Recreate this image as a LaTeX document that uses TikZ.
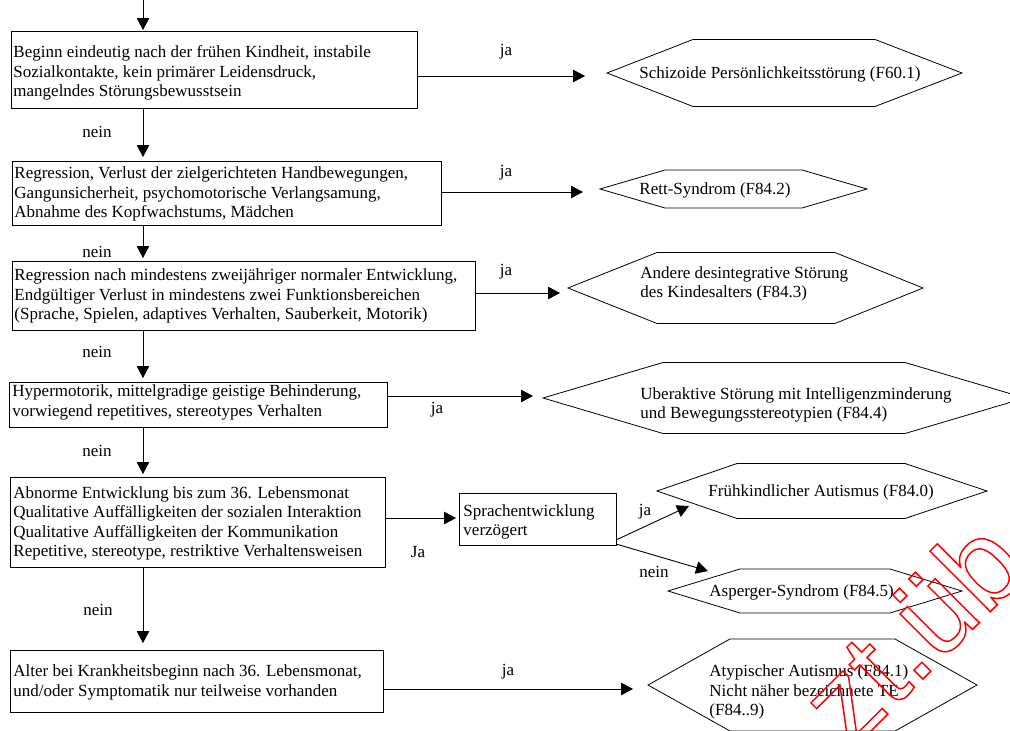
\documentclass[tikz,border=0pt]{standalone}
\usepackage{fontspec}
\setmainfont{Liberation Serif}
\newfontfamily\wmfont{Liberation Sans}
\usetikzlibrary{arrows.meta}
\newcommand\hexagon[6]{\draw[hex] (#1,#2) -- (#3,#2-#6) -- (#4,#2-#6) -- (#5,#2) -- (#4,#2+#6) -- (#3,#2+#6) -- cycle;}
\begin{document}
\begin{tikzpicture}[x=1pt,y=-1pt, line width=0.9pt,
  every node/.style={font=\fontsize{17}{19.3}\selectfont},
  box/.style={draw, anchor=north west, inner sep=0pt},
  lbl/.style={inner sep=0pt},
  htext/.style={inner sep=0pt, anchor=west, align=left},
  arr/.style={-{Triangle[length=12pt,width=12.5pt]}},
  hex/.style={draw, line width=0.8pt}]
\useasboundingbox[fill=white] (0,0) rectangle (1010,731);

% decision boxes
\node[box, minimum width=406pt, minimum height=77pt] (b1) at (11,31) {};
\node[box, minimum width=429pt, minimum height=64pt] (b2) at (12,161) {};
\node[box, minimum width=463pt, minimum height=69pt] (b3) at (12,261) {};
\node[box, minimum width=378pt, minimum height=45pt] (b4) at (9,382) {};
\node[box, minimum width=375pt, minimum height=90pt] (b5) at (10,477) {};
\node[box, minimum width=373pt, minimum height=62pt] (b6) at (10,650) {};
\node[box, minimum width=157pt, minimum height=52pt] (sp) at (459,493) {};
\node[htext] (b1t) at (13,73)
  {Beginn eindeutig nach der frühen Kindheit, instabile\\Sozialkontakte, kein primärer Leidensdruck,\\mangelndes Störungsbewusstsein};
\node[htext] (b2t) at (14,194)
  {Regression, Verlust der zielgerichteten Handbewegungen,\\Gangunsicherheit, psychomotorische Verlangsamung,\\Abnahme des Kopfwachstums, Mädchen};
\node[htext] (b3t) at (14,296)
  {Regression nach mindestens zweijähriger normaler Entwicklung,\\Endgültiger Verlust in mindestens zwei Funktionsbereichen\\(Sprache, Spielen, adaptives Verhalten, Sauberkeit, Motorik)};
\node[htext] (b4t) at (12,402.5)
  {Hypermotorik, mittelgradige geistige Behinderung,\\vorwiegend repetitives, stereotypes Verhalten};
\node[htext] (b5t) at (13,523.5)
  {Abnorme Entwicklung bis zum 36. Lebensmonat\\Qualitative Auffälligkeiten der sozialen Interaktion\\Qualitative Auffälligkeiten der Kommunikation\\Repetitive, stereotype, restriktive Verhaltensweisen};
\node[htext] (b6t) at (13,682.5)
  {Alter bei Krankheitsbeginn nach 36. Lebensmonat,\\und/oder Symptomatik nur teilweise vorhanden};
\node[htext] (spt) at (463,522) {Sprachentwicklung\\verzögert};

% result hexagons
\hexagon{607}{73}{693}{875}{962}{33.5}
\hexagon{600}{189}{665}{802}{867}{19}
\hexagon{568}{288}{657}{835}{923}{35.5}
\hexagon{543}{398}{663}{905}{1025}{35.5}
\hexagon{657}{491}{737}{905}{987}{27.5}
\hexagon{668}{591}{740}{890}{962}{22}
\hexagon{648}{685}{730}{895}{977}{46}
\node[htext] (h1) at (639,74) {Schizoide Persönlichkeitsstörung (F60.1)};
\node[htext] (h2) at (639,190) {Rett-Syndrom (F84.2)};
\node[htext] (h3) at (640,284) {Andere desintegrative Störung\\des Kindesalters (F84.3)};
\node[htext] (h4) at (640,405) {Uberaktive Störung mit Intelligenzminderung\\und Bewegungsstereotypien (F84.4)};
\node[htext] (h5) at (708,492) {Frühkindlicher Autismus (F84.0)};
\node[htext] (h6) at (709,592) {Asperger-Syndrom (F84.5)};
\node[htext] (h7) at (709,692) {Atypischer Autismus (F84.1)\\Nicht näher bezeichnete TE\\(F84..9)};

% coordinates
\coordinate (top) at (143,0);
\coordinate (t1) at (585,76);
\coordinate (t2) at (583,192);
\coordinate (t3) at (560,293);
\coordinate (t4) at (533,396);
\coordinate (t5) at (456,518);
\coordinate (t6) at (633,689);
\coordinate (s1) at (616,540);
\coordinate (s2) at (616,544);
\coordinate (ta) at (689,506);
\coordinate (tn) at (708,571);

% vertical "nein" chain
\draw[arr] (top) -- ([yshift=1pt]b1.north -| top);
\draw[arr] (b1.south -| top) -- ([yshift=4pt]b2.north -| top);
\draw[arr] (b2.south -| top) -- ([yshift=3pt]b3.north -| top);
\draw[arr] (b3.south -| top) -- ([yshift=4pt]b4.north -| top);
\draw[arr] (b4.south -| top) -- ([yshift=3pt]b5.north -| top);
\draw[arr] (b5.south -| top) -- ([yshift=7pt]b6.north -| top);
\node[lbl] (n1) at (97,132) {nein};
\node[lbl] (n2) at (97,252) {nein};
\node[lbl] (n3) at (97,352) {nein};
\node[lbl] (n4) at (97,451) {nein};
\node[lbl] (n5) at (98,610) {nein};

% horizontal "ja" arrows
\draw[arr] (b1.east |- t1) -- (t1);
\draw[arr] (b2.east |- t2) -- (t2);
\draw[arr] (b3.east |- t3) -- (t3);
\draw[arr] (b4.east |- t4) -- (t4);
\draw[arr] (b5.east |- t5) -- (t5);
\draw[arr] (b6.east |- t6) -- (t6);
\draw[arr] (s1) -- (ta);
\draw[arr] (s2) -- (tn);
\node[lbl] (j1) at (506,52) {ja};
\node[lbl] (j2) at (506,173) {ja};
\node[lbl] (j3) at (506,272) {ja};
\node[lbl] (j4) at (437,410) {ja};
\node[lbl] (j5) at (418,552) {Ja};
\node[lbl] (j6) at (508,672) {ja};
\node[lbl] (j7) at (645,512) {ja};
\node[lbl] (j8) at (654,572) {nein};

% watermark
\node[rotate=45, anchor=base west, inner sep=0pt, text=red,
  font=\wmfont\fontsize{118}{118}\selectfont] (wm) at (850,752)
  {\special{pdf:literal direct 1 Tr 1.5 w}zt.üb\special{pdf:literal direct 0 Tr}};
\end{tikzpicture}
\end{document}
